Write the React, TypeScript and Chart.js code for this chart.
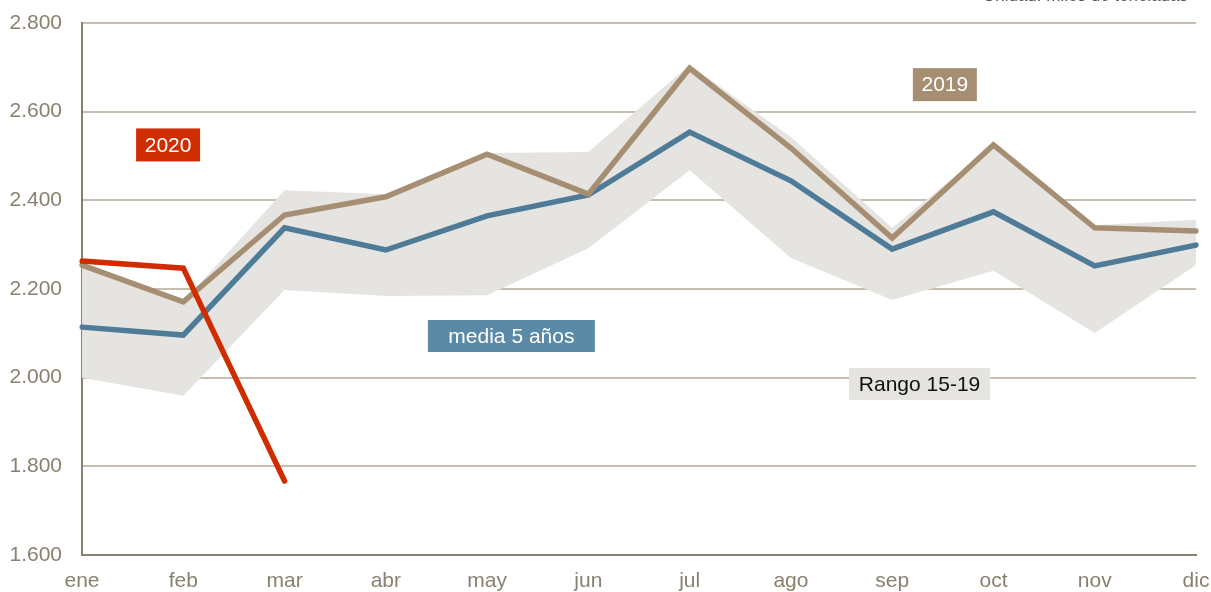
import React, { useEffect, useRef } from "react";
import { Chart, registerables } from "chart.js";

Chart.register(...registerables);

const months = ["ene", "feb", "mar", "abr", "may", "jun", "jul", "ago", "sep", "oct", "nov", "dic"];
const rangeMax = [2254, 2171, 2423, 2414, 2507, 2509, 2705, 2543, 2338, 2525, 2344, 2356];
const rangeMin = [2000, 1959, 2198, 2184, 2186, 2292, 2468, 2270, 2175, 2241, 2101, 2254];
const media5 = [2114, 2096, 2338, 2288, 2365, 2412, 2554, 2444, 2290, 2374, 2252, 2299];
const y2019 = [2254, 2171, 2367, 2408, 2504, 2414, 2698, 2518, 2315, 2525, 2338, 2331];
const y2020 = [2263, 2247, 1767, null, null, null, null, null, null, null, null, null];
const yTicks = [1600, 1800, 2000, 2200, 2400, 2600, 2800];

const labelBoxes = [
  { text: "2020", x: 0.85, y: 2525, bg: "#cf2e02", fg: "#ffffff", w: 64, h: 33 },
  { text: "2019", x: 8.52, y: 2661, bg: "#a68e72", fg: "#ffffff", w: 64, h: 33 },
  { text: "media 5 años", x: 4.24, y: 2094, bg: "#5b8aa6", fg: "#ffffff", w: 167, h: 32 },
  { text: "Rango 15-19", x: 8.27, y: 1986, bg: "#e6e4e0", fg: "#111111", w: 141, h: 32 },
];
const unitText = "Unidad: miles de toneladas";

const FONT = '"Liberation Sans", Arial, sans-serif';

const fmt = (v: number) => {
  const s = Math.round(v).toString();
  return s.length > 3 ? s.slice(0, s.length - 3) + "." + s.slice(s.length - 3) : s;
};

const labelsPlugin = {
  id: "labelsPlugin",
  afterDatasetsDraw(chart: any) {
    const { ctx, scales } = chart;
    ctx.save();
    ctx.font = `21px ${FONT}`;
    ctx.textAlign = "center";
    ctx.textBaseline = "middle";
    for (const b of labelBoxes) {
      const cx = scales.x.getPixelForValue(b.x);
      const cy = scales.y.getPixelForValue(b.y);
      ctx.fillStyle = b.bg;
      ctx.fillRect(cx - b.w / 2, cy - b.h / 2, b.w, b.h);
      ctx.fillStyle = b.fg;
      ctx.fillText(b.text, cx, cy + 1);
    }
    ctx.font = `17px ${FONT}`;
    ctx.textAlign = "right";
    ctx.textBaseline = "alphabetic";
    ctx.fillStyle = "#555555";
    ctx.fillText(unitText, chart.chartArea.right - 8, 1);
    ctx.restore();
  },
};

export default function App() {
  const ref = useRef<HTMLCanvasElement>(null);
  useEffect(() => {
    if (!ref.current) return;
    const chart = new Chart(ref.current, {
      type: "line",
      data: {
        labels: months,
        datasets: [
          {
            label: "max",
            data: rangeMax,
            borderWidth: 0,
            pointRadius: 0,
            backgroundColor: "#e6e4e0",
            fill: "+1",
            tension: 0,
            order: 10,
          },
          {
            label: "min",
            data: rangeMin,
            borderWidth: 0,
            pointRadius: 0,
            backgroundColor: "#e6e4e0",
            fill: false,
            tension: 0,
            order: 10,
          },
          {
            label: "media 5 años",
            data: media5,
            borderColor: "#4e7c98",
            borderWidth: 5.5,
            pointRadius: 0,
            fill: false,
            tension: 0,
            borderCapStyle: "round",
            order: 3,
          },
          {
            label: "2019",
            data: y2019,
            borderColor: "#a68e72",
            borderWidth: 5.5,
            pointRadius: 0,
            fill: false,
            tension: 0,
            borderCapStyle: "round",
            order: 2,
          },
          {
            label: "2020",
            data: y2020,
            borderColor: "#d02c00",
            borderWidth: 5.5,
            pointRadius: 0,
            fill: false,
            tension: 0,
            borderCapStyle: "round",
            spanGaps: false,
            order: 1,
          },
        ],
      },
      options: {
        animation: false,
        responsive: false,
        maintainAspectRatio: false,
        layout: { padding: { left: 0, right: 15, top: 23, bottom: 0 } },
        plugins: { legend: { display: false }, tooltip: { enabled: false } },
        scales: {
          x: {
            grid: { display: false },
            border: { color: "#8a8170", width: 2 },
            ticks: {
              color: "#8a8070",
              font: { family: FONT, size: 21 },
              padding: 6,
              maxRotation: 0,
              autoSkip: false,
            },
            afterFit(scale: any) {
              scale.height = 37;
              scale.paddingLeft = 0;
              scale.paddingRight = 0;
            },
          },
          y: {
            min: 1600,
            max: 2800,
            afterBuildTicks(scale: any) {
              scale.ticks = yTicks.map((v) => ({ value: v }));
            },
            grid: { color: "#c6beb0", lineWidth: 2, drawTicks: false },
            border: { color: "#8a8170", width: 2 },
            ticks: {
              color: "#8a8070",
              font: { family: FONT, size: 21 },
              padding: 20,
              callback: (v: any) => fmt(Number(v)),
            },
            afterFit(scale: any) {
              scale.width = 82;
              scale.paddingTop = 0;
              scale.paddingBottom = 0;
            },
          },
        },
      },
      plugins: [labelsPlugin],
    });
    return () => chart.destroy();
  }, []);
  return (
    <div style={{ position: "absolute", left: 0, top: 0, width: 1211, height: 592, background: "#fff" }}>
      <canvas ref={ref} width={1211} height={592} style={{ display: "block" }} />
    </div>
  );
}
